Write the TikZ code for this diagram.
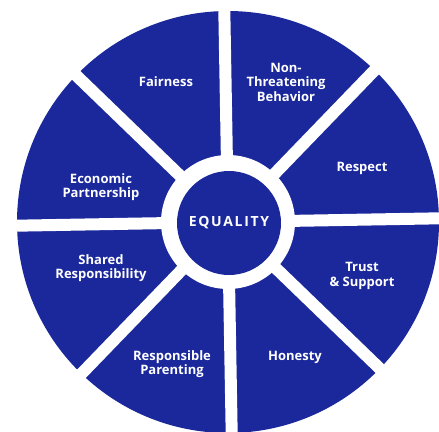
\documentclass[tikz,border=0pt]{standalone}
\usepackage{fontspec}
\setmainfont{Open Sans}
\definecolor{wheelblue}{RGB}{26,40,155}
\begin{document}
\begin{tikzpicture}[x=1pt,y=-1pt,
  lbl/.style={text=white,align=center,inner sep=0pt,
    font=\fontsize{13}{14.5}\selectfont\bfseries},
  spoke/.style={draw=white,line width=12pt}]
\useasboundingbox (0,0) rectangle (439,431);
\fill[white] (0,0) rectangle (439,431);
\coordinate (c) at (228,222);
\fill[wheelblue] (c) circle[radius=211];
\foreach \a in {-1,44,89,134}
  \draw[spoke] ([shift={(\a:216)}]c) -- ([shift={(\a+180:216)}]c);
\fill[white] (c) circle[radius=67];
\node[circle,fill=wheelblue,minimum size=104pt,inner sep=0pt,text=white,
  font=\fontsize{14}{15}\selectfont\bfseries\addfontfeature{LetterSpace=12}] (eq) at (229,223) {EQUALITY};
\node[lbl] (fair) at (166,82) {Fairness};
\node[lbl] (ntb) at (286,82) {Non-\\Threatening\\Behavior};
\node[lbl] (resp) at (362,168) {Respect};
\node[lbl] (econ) at (101,187) {Economic\\Partnership};
\node[lbl] (shared) at (101,268) {Shared\\Responsibility};
\node[lbl] (trust) at (362,276) {Trust\\\& Support};
\node[lbl] (parent) at (172,364) {Responsible\\Parenting};
\node[lbl] (hon) at (295,357) {Honesty};
\end{tikzpicture}
\end{document}
